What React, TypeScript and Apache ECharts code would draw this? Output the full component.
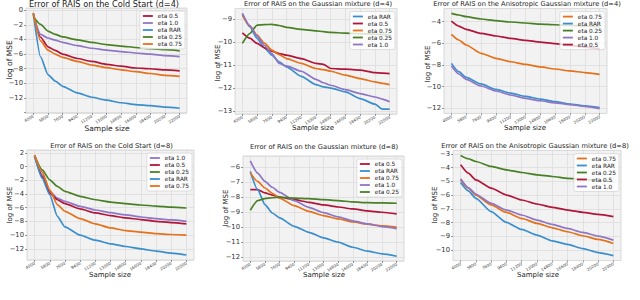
import React, { useEffect, useRef } from 'react';
import * as echarts from 'echarts';

const X_CATEGORIES = ['3100', '4000', '4900', '5800', '6700', '7600', '8500', '9400', '10300', '11200', '12100', '13000', '13900', '14800', '15700', '16600', '17500', '18400', '19300', '20200', '21100', '22000', '22900'];

// Panel 1: Cold Start (d=4)
const P1_X = [4000, 4900, 5800, 6700, 7600, 9400, 11200, 13000, 14800, 16600, 18400, 20200, 22000];
const P1_ETA05 = [-0.5, -3.7, -5.0, -5.5, -6.0, -6.6, -7.0, -7.4, -7.65, -7.9, -8.0, -8.15, -8.3];
const P1_ETA10 = [-0.7, -3.3, -3.8, -4.1, -4.4, -4.85, -5.2, -5.45, -5.65, -5.85, -6.0, -6.2, -6.35];
const P1_RAR = [-0.36, -6.4, -8.8, -9.7, -10.4, -11.3, -11.9, -12.3, -12.65, -12.9, -13.05, -13.25, -13.4];
const P1_ETA025 = [-0.9, -1.95, -2.85, -3.3, -3.65, -4.05, -4.4, -4.7, -4.9, -5.1, -5.25, -5.4, -5.55];
const P1_ETA075 = [-0.4, -4.2, -5.45, -6.0, -6.45, -7.0, -7.5, -7.85, -8.15, -8.4, -8.65, -8.9, -9.05];

// Panel 2: Gaussian mixture (d=4)
const P2_X = [4000, 4900, 5800, 6700, 7600, 8500, 9400, 11200, 13000, 13900, 14800, 16600, 18400, 20200, 21100, 22000];
const P2_RAR = [-8.78, -9.33, -9.84, -10.25, -10.57, -10.86, -11.08, -11.49, -11.85, -11.95, -12.0, -12.17, -12.46, -12.7, -12.92, -12.92];
const P2_ETA05 = [-9.6, -9.83, -10.06, -10.25, -10.4, -10.5, -10.57, -10.72, -10.93, -10.97, -11.15, -11.18, -11.22, -11.33, -11.35, -11.37];
const P2_ETA075 = [-8.83, -9.3, -9.7, -10.05, -10.35, -10.55, -10.72, -10.93, -11.15, -11.2, -11.27, -11.44, -11.59, -11.73, -11.8, -11.85];
const P2_ETA025 = [-10.06, -9.63, -9.26, -9.24, -9.23, -9.28, -9.36, -9.45, -9.51, -9.55, -9.58, -9.61, -9.63, -9.66, -9.67, -9.68];
const P2_ETA10 = [-8.75, -9.28, -9.74, -10.15, -10.5, -10.93, -11.04, -11.27, -11.62, -11.77, -11.88, -12.07, -12.24, -12.39, -12.48, -12.6];

// Panel 3: Anisotropic Gaussian mixture (d=4)
const P3_X = [4000, 4900, 5800, 7600, 9400, 11200, 13000, 14800, 16600, 18400, 20200, 22000];
const P3_ETA075 = [-5.17, -5.69, -6.15, -6.92, -7.38, -7.7, -7.94, -8.18, -8.37, -8.55, -8.7, -8.86];
const P3_RAR = [-7.85, -8.62, -9.14, -9.75, -10.25, -10.6, -10.9, -11.15, -11.38, -11.6, -11.78, -11.94];
const P3_ETA025 = [-3.23, -3.38, -3.54, -3.75, -3.9, -4.03, -4.12, -4.22, -4.28, -4.34, -4.4, -4.46];
const P3_ETA10 = [-8.1, -8.83, -9.32, -9.94, -10.4, -10.77, -11.08, -11.3, -11.5, -11.66, -11.82, -12.03];
const P3_ETA05 = [-3.94, -4.4, -4.7, -5.08, -5.32, -5.54, -5.72, -5.88, -6.03, -6.18, -6.34, -6.5];

// Panel 4: Cold Start (d=8)
const P4_X = [4000, 4900, 5800, 6700, 7600, 9400, 11200, 13000, 14800, 16600, 18400, 20200, 22000];
const P4_ETA10 = [1.61, -1.2, -3.6, -4.6, -5.07, -5.8, -6.33, -6.72, -7.05, -7.35, -7.59, -7.78, -7.98];
const P4_ETA05 = [1.6, -1.44, -3.86, -4.83, -5.4, -6.18, -6.76, -7.15, -7.49, -7.73, -7.98, -8.17, -8.36];
const P4_ETA025 = [1.6, -0.47, -1.92, -2.89, -3.6, -4.34, -4.83, -5.17, -5.41, -5.6, -5.75, -5.9, -6.04];
const P4_RAR = [1.6, -1.68, -4.1, -7.25, -8.8, -10.0, -10.74, -11.27, -11.66, -12.0, -12.33, -12.62, -12.9];
const P4_ETA075 = [1.7, -0.8, -3.4, -5.55, -6.52, -7.59, -8.36, -8.94, -9.33, -9.57, -9.77, -9.91, -10.0];

// Panel 5: Gaussian mixture (d=8)
const P5_X = [4000, 4900, 5800, 6700, 7600, 9400, 11200, 13000, 14800, 16600, 18400, 20200, 22000];
const P5_ETA05 = [-7.51, -7.51, -7.73, -7.87, -8.0, -8.18, -8.36, -8.53, -8.67, -8.8, -8.93, -9.02, -9.13];
const P5_RAR = [-6.29, -7.51, -8.51, -9.07, -9.4, -9.96, -10.36, -10.73, -11.02, -11.36, -11.62, -11.8, -11.96];
const P5_ETA075 = [-6.4, -6.96, -7.4, -7.75, -8.07, -8.58, -8.96, -9.24, -9.47, -9.67, -9.82, -9.93, -10.02];
const P5_ETA10 = [-5.58, -6.4, -6.96, -7.35, -7.69, -8.24, -8.69, -9.04, -9.33, -9.6, -9.8, -9.98, -10.11];
const P5_ETA025 = [-8.89, -8.24, -8.11, -8.05, -8.02, -8.07, -8.11, -8.18, -8.24, -8.33, -8.38, -8.4, -8.42];

// Panel 6: Anisotropic Gaussian mixture (d=8)
const P6_X = [4000, 4900, 5800, 7600, 9400, 11200, 13000, 14800, 16600, 18400, 20200, 22000];
const P6_ETA075 = [-4.9, -5.5, -6.0, -6.72, -7.26, -7.7, -8.06, -8.38, -8.67, -8.96, -9.23, -9.52];
const P6_RAR = [-5.09, -5.7, -6.24, -7.21, -7.99, -8.5, -8.91, -9.33, -9.59, -9.89, -10.18, -10.4];
const P6_ETA025 = [-3.12, -3.36, -3.56, -3.92, -4.17, -4.36, -4.53, -4.65, -4.78, -4.85, -4.95, -5.02];
const P6_ETA05 = [-3.8, -4.41, -4.9, -5.5, -6.0, -6.36, -6.65, -6.89, -7.09, -7.26, -7.4, -7.57];
const P6_ETA10 = [-4.82, -5.46, -5.94, -6.6, -7.09, -7.45, -7.82, -8.13, -8.43, -8.72, -8.99, -9.28];

const COLORS: Record<string, string> = {
  'eta 0.5': '#B2153A',
  'eta 1.0': '#8E76C4',
  'eta RAR': '#3A8ECC',
  'eta 0.25': '#4A8025',
  'eta 0.75': '#E5711A',
};

const FONT = 'DejaVu Sans';

type Panel = {
  title: string;
  titleSize: number;
  titleX: number;
  titleY: number;
  grid: { left: number; top: number; width: number; height: number };
  yMin: number;
  yMax: number;
  yStep: number;
  xs: number[];
  series: [string, number[]][];
  ylabX: number;
  ylabY: number;
  xlabX: number;
  xlabY: number;
  labSize: number;
};

const PANELS: Panel[] = [
  {
    title: 'Error of RAIS on the Cold Start (d=4)', titleSize: 8.2, titleX: 104, titleY: 3.5,
    grid: { left: 26, top: 8, width: 161, height: 105 }, yMin: -14.05, yMax: 0.3, yStep: 2,
    xs: P1_X,
    series: [['eta 0.5', P1_ETA05], ['eta 1.0', P1_ETA10], ['eta RAR', P1_RAR], ['eta 0.25', P1_ETA025], ['eta 0.75', P1_ETA075]],
    ylabX: 9, ylabY: 60, xlabX: 107, xlabY: 128, labSize: 7.5,
  },
  {
    title: 'Error of RAIS on the Gaussian mixture (d=4)', titleSize: 6.7, titleX: 318, titleY: 3.5,
    grid: { left: 235, top: 8.5, width: 162, height: 105.5 }, yMin: -13.13, yMax: -8.54, yStep: 1,
    xs: P2_X,
    series: [['eta RAR', P2_RAR], ['eta 0.5', P2_ETA05], ['eta 0.75', P2_ETA075], ['eta 0.25', P2_ETA025], ['eta 1.0', P2_ETA10]],
    ylabX: 218, ylabY: 63, xlabX: 313, xlabY: 127.7, labSize: 7,
  },
  {
    title: 'Error of RAIS on the Anisotropic Gaussian mixture (d=4)', titleSize: 6.7, titleX: 527, titleY: 3.5,
    grid: { left: 444, top: 8.6, width: 163, height: 104.8 }, yMin: -12.47, yMax: -2.79, yStep: 2,
    xs: P3_X,
    series: [['eta 0.75', P3_ETA075], ['eta RAR', P3_RAR], ['eta 0.25', P3_ETA025], ['eta 1.0', P3_ETA10], ['eta 0.5', P3_ETA05]],
    ylabX: 427.5, ylabY: 64, xlabX: 525, xlabY: 127.7, labSize: 7,
  },
  {
    title: 'Error of RAIS on the Cold Start (d=8)', titleSize: 6.7, titleX: 111.5, titleY: 145.7,
    grid: { left: 27, top: 150, width: 167, height: 110 }, yMin: -13.63, yMax: 2.43, yStep: 2,
    xs: P4_X,
    series: [['eta 1.0', P4_ETA10], ['eta 0.5', P4_ETA05], ['eta 0.25', P4_ETA025], ['eta RAR', P4_RAR], ['eta 0.75', P4_ETA075]],
    ylabX: 10, ylabY: 205, xlabX: 110, xlabY: 274.7, labSize: 7,
  },
  {
    title: 'Error of RAIS on the Gaussian mixture (d=8)', titleSize: 6.7, titleX: 324, titleY: 146.5,
    grid: { left: 243, top: 156, width: 161, height: 105 }, yMin: -12.28, yMax: -5.26, yStep: 1,
    xs: P5_X,
    series: [['eta 0.5', P5_ETA05], ['eta RAR', P5_RAR], ['eta 0.75', P5_ETA075], ['eta 1.0', P5_ETA10], ['eta 0.25', P5_ETA025]],
    ylabX: 226, ylabY: 208, xlabX: 324, xlabY: 274.7, labSize: 7,
  },
  {
    title: 'Error of RAIS on the Anisotropic Gaussian mixture (d=8)', titleSize: 6.7, titleX: 535, titleY: 145.7,
    grid: { left: 453, top: 150.5, width: 168, height: 110 }, yMin: -10.76, yMax: -2.76, yStep: 1,
    xs: P6_X,
    series: [['eta 0.75', P6_ETA075], ['eta RAR', P6_RAR], ['eta 0.25', P6_ETA025], ['eta 0.5', P6_ETA05], ['eta 1.0', P6_ETA10]],
    ylabX: 435, ylabY: 205, xlabX: 538, xlabY: 274.5, labSize: 7,
  },
];

const showOdd = (idx: number) => idx % 2 === 1;

function fmtY(p: Panel) {
  return (v: number) => {
    const r = v / p.yStep;
    if (Math.abs(r - Math.round(r)) > 1e-6) return '';
    if (v < p.yMin + 0.12 * p.yStep || v > p.yMax - 0.12 * p.yStep) return '';
    const n = Math.round(v);
    return n < 0 ? '\u2212' + Math.abs(n) : String(n);
  };
}

function buildOption() {
  const grid: any[] = [];
  const xAxis: any[] = [];
  const yAxis: any[] = [];
  const series: any[] = [];
  const legend: any[] = [];
  const graphic: any[] = [];

  PANELS.forEach((p, i) => {
    grid.push({
      left: p.grid.left, top: p.grid.top, width: p.grid.width, height: p.grid.height,
      show: true, backgroundColor: '#f2f2f2', borderColor: '#cfcfcf', borderWidth: 0.8,
    });
    xAxis.push({
      type: 'category', gridIndex: i, data: X_CATEGORIES, boundaryGap: false, position: 'bottom',
      axisLine: { show: false, onZero: false },
      axisTick: { show: true, interval: showOdd, length: 2, lineStyle: { color: '#555', width: 0.6 } },
      axisLabel: { interval: showOdd, rotate: 30, fontSize: 4, margin: 3, color: '#333', fontFamily: FONT },
      splitLine: { show: true, interval: showOdd, lineStyle: { color: '#dcdcdc', width: 0.8 } },
    });
    yAxis.push({
      type: 'value', gridIndex: i, min: p.yMin, max: p.yMax, position: 'left',
      minInterval: p.yStep, maxInterval: p.yStep, splitNumber: 20,
      axisLine: { show: false, onZero: false },
      axisTick: { show: true, length: 2, lineStyle: { color: '#555', width: 0.6 } },
      axisLabel: { fontSize: 6.8, margin: 3, color: '#333', fontFamily: FONT, formatter: fmtY(p), showMinLabel: false, showMaxLabel: false },
      splitLine: { show: true, lineStyle: { color: '#dcdcdc', width: 0.8 } },
    });
    p.series.forEach(([name, vals]) => {
      series.push({
        type: 'line', name, xAxisIndex: i, yAxisIndex: i,
        data: p.xs.map((x, k) => [X_CATEGORIES.indexOf(String(x)), vals[k]]),
        showSymbol: false, symbol: 'none',
        smooth: 0.2, smoothMonotone: 'x',
        lineStyle: { color: COLORS[name], width: 1.7 },
        itemStyle: { color: COLORS[name] },
      });
    });
    legend.push({
      data: p.series.map(s => s[0]),
      orient: 'vertical',
      right: 640 - (p.grid.left + p.grid.width - 2),
      top: p.grid.top + 3,
      icon: 'rect', itemWidth: 10, itemHeight: 1.8, itemGap: 1,
      textStyle: { fontSize: 5.8, color: '#222', fontFamily: FONT, lineHeight: 6 },
      padding: [2, 3, 2, 3],
      backgroundColor: 'rgba(255,255,255,0.8)', borderColor: '#cccccc', borderWidth: 0.6, borderRadius: 2,
      selectedMode: false,
    });
    graphic.push({
      type: 'text', x: p.titleX, y: p.titleY,
      style: { text: p.title, fontSize: p.titleSize, fontFamily: FONT, fill: '#222', align: 'center', verticalAlign: 'middle' },
    });
    graphic.push({
      type: 'text', x: p.ylabX, y: p.ylabY, rotation: Math.PI / 2,
      style: { text: 'log of MSE', fontSize: p.labSize, fontFamily: FONT, fill: '#222', align: 'center', verticalAlign: 'middle' },
    });
    graphic.push({
      type: 'text', x: p.xlabX, y: p.xlabY,
      style: { text: 'Sample size', fontSize: p.labSize, fontFamily: FONT, fill: '#222', align: 'center', verticalAlign: 'middle' },
    });
  });

  return { animation: false, backgroundColor: '#ffffff', grid, xAxis, yAxis, series, legend, graphic };
}

export default function App() {
  const ref = useRef<HTMLDivElement>(null);
  useEffect(() => {
    if (!ref.current) return;
    const chart = echarts.init(ref.current, undefined, { renderer: 'svg' });
    chart.setOption(buildOption());
    return () => chart.dispose();
  }, []);
  return <div ref={ref} style={{ position: 'fixed', left: 0, top: 0, width: 640, height: 300 }} />;
}
